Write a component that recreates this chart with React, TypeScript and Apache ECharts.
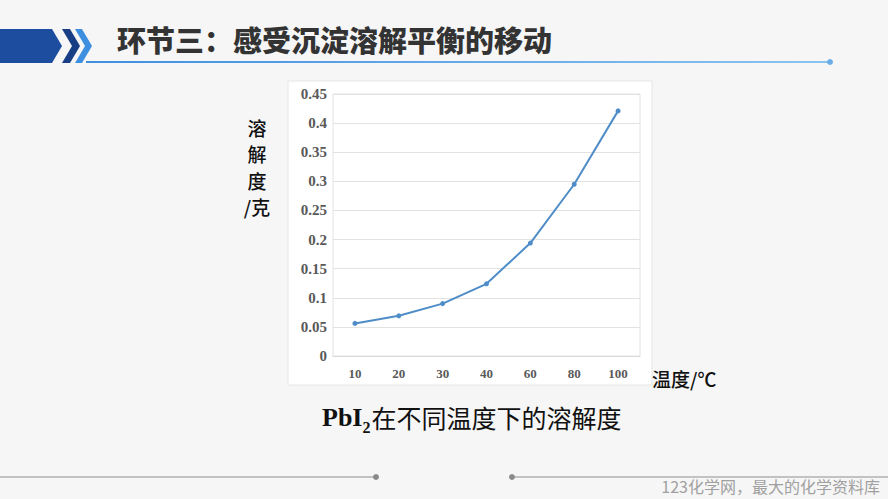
import React, { useEffect, useRef } from "react";
import * as echarts from "echarts";

const categories = ["10", "20", "30", "40", "60", "80", "100"];
const solubility = [0.056, 0.069, 0.09, 0.124, 0.194, 0.295, 0.421];
const yTicks = { min: 0, max: 0.45, interval: 0.05 };

const title = "环节三：感受沉淀溶解平衡的移动";
const yName = "溶\n解\n度\n/克";
const xName = "温度/℃";
const captionFormula = "PbI";
const captionSub = "2";
const captionText = "在不同温度下的溶解度";
const watermark = "123化学网，最大的化学资料库";

export default function App() {
  const ref = useRef<HTMLDivElement>(null);
  useEffect(() => {
    if (!ref.current) return;
    const chart = echarts.init(ref.current, undefined, { renderer: "svg" });
    const serif = "'Liberation Serif', 'Times New Roman', serif";
    const cjk = "'Noto Sans CJK SC', sans-serif";
    chart.setOption({
      animation: false,
      backgroundColor: "#f6f6f6",
      grid: {
        left: 333,
        top: 94,
        right: 248,
        bottom: 143,
        show: true,
        borderColor: "#e2e2e2",
        borderWidth: 1,
      },
      xAxis: {
        type: "category",
        data: categories,
        boundaryGap: true,
        axisLine: { show: true, lineStyle: { color: "#d9d9d9" } },
        axisTick: { show: false },
        axisLabel: {
          margin: 11,
          color: "#595959",
          fontFamily: serif,
          fontWeight: "bold",
          fontSize: 13,
        },
      },
      yAxis: {
        type: "value",
        min: yTicks.min,
        max: yTicks.max,
        interval: yTicks.interval,
        axisLine: { show: false },
        axisTick: { show: false },
        splitLine: { lineStyle: { color: "#e2e2e2" } },
        axisLabel: {
          margin: 6,
          color: "#595959",
          fontFamily: serif,
          fontWeight: "bold",
          fontSize: 15,
          formatter: (v: number) => String(parseFloat(v.toFixed(2))),
        },
      },
      series: [
        {
          type: "line",
          data: solubility,
          symbol: "circle",
          symbolSize: 5,
          lineStyle: { color: "#4f8dc8", width: 2 },
          itemStyle: { color: "#4f8dc8" },
        },
      ],
      graphic: [
        {
          type: "rect",
          z: -10,
          shape: { x: 288, y: 81, width: 364, height: 304 },
          style: { fill: "#ffffff", stroke: "#e6e6e6", lineWidth: 1 },
        },
        {
          type: "polygon",
          shape: { points: [[0, 29], [52, 29], [62, 46], [52, 63], [0, 63]] },
          style: { fill: "#1c4d9e" },
        },
        {
          type: "polygon",
          shape: { points: [[62, 29], [70, 29], [80, 46], [70, 63], [62, 63], [72, 46]] },
          style: { fill: "#183f85" },
        },
        {
          type: "polygon",
          shape: { points: [[75, 29], [82, 29], [92, 46], [82, 63], [75, 63], [85, 46]] },
          style: { fill: "#3f8fe0" },
        },
        {
          type: "rect",
          shape: { x: 86, y: 61, width: 744, height: 2 },
          style: {
            fill: new echarts.graphic.LinearGradient(0, 0, 1, 0, [
              { offset: 0, color: "#3f8fe0" },
              { offset: 1, color: "#8cc4f0" },
            ]),
          },
        },
        {
          type: "circle",
          shape: { cx: 830, cy: 62, r: 3 },
          style: { fill: "#6aaee8" },
        },
        {
          type: "text",
          x: 117,
          y: 39,
          style: {
            text: title,
            fontFamily: cjk,
            fontWeight: 900,
            fontSize: 29,
            fill: "#333333",
            textVerticalAlign: "middle",
            verticalAlign: "middle",
          },
        },
        {
          type: "text",
          x: 257,
          y: 114,
          style: {
            text: yName,
            fontFamily: cjk,
            fontWeight: 500,
            fontSize: 19,
            lineHeight: 26.5,
            fill: "#111111",
            align: "center",
            textAlign: "center",
          },
        },
        {
          type: "text",
          x: 652,
          y: 378,
          style: {
            text: xName,
            fontFamily: cjk,
            fontWeight: 500,
            fontSize: 19,
            fill: "#111111",
            verticalAlign: "middle",
            textVerticalAlign: "middle",
          },
        },
        {
          type: "text",
          x: 322,
          y: 417,
          style: {
            text: `{a|${captionFormula}}{b|${captionSub}}{c|${captionText}}`,
            verticalAlign: "middle",
            textVerticalAlign: "middle",
            rich: {
              a: { fontFamily: serif, fontWeight: "bold", fontSize: 26, fill: "#111111", color: "#111111" },
              b: { fontFamily: serif, fontWeight: "bold", fontSize: 16, fill: "#111111", color: "#111111", padding: [20, 1, 0, 0] },
              c: { fontFamily: cjk, fontSize: 25, fill: "#111111", color: "#111111" },
            },
          },
        },
        {
          type: "line",
          shape: { x1: 0, y1: 477, x2: 376, y2: 477 },
          style: { stroke: "#b0b0b0", lineWidth: 1.5 },
        },
        {
          type: "circle",
          shape: { cx: 376, cy: 477, r: 3 },
          style: { fill: "#8a8a8a" },
        },
        {
          type: "line",
          shape: { x1: 512, y1: 477, x2: 888, y2: 477 },
          style: { stroke: "#b0b0b0", lineWidth: 1.5 },
        },
        {
          type: "circle",
          shape: { cx: 512, cy: 477, r: 3 },
          style: { fill: "#8a8a8a" },
        },
        {
          type: "text",
          x: 880,
          y: 486,
          style: {
            text: watermark,
            fontFamily: "'Noto Sans CJK SC', sans-serif",
            fontSize: 16,
            fill: "#a0a0a0",
            align: "right",
            textAlign: "right",
            verticalAlign: "middle",
            textVerticalAlign: "middle",
          },
        },
      ],
    });
    return () => chart.dispose();
  }, []);
  return (
    <div
      ref={ref}
      style={{ position: "fixed", left: 0, top: 0, width: 888, height: 499 }}
    />
  );
}
